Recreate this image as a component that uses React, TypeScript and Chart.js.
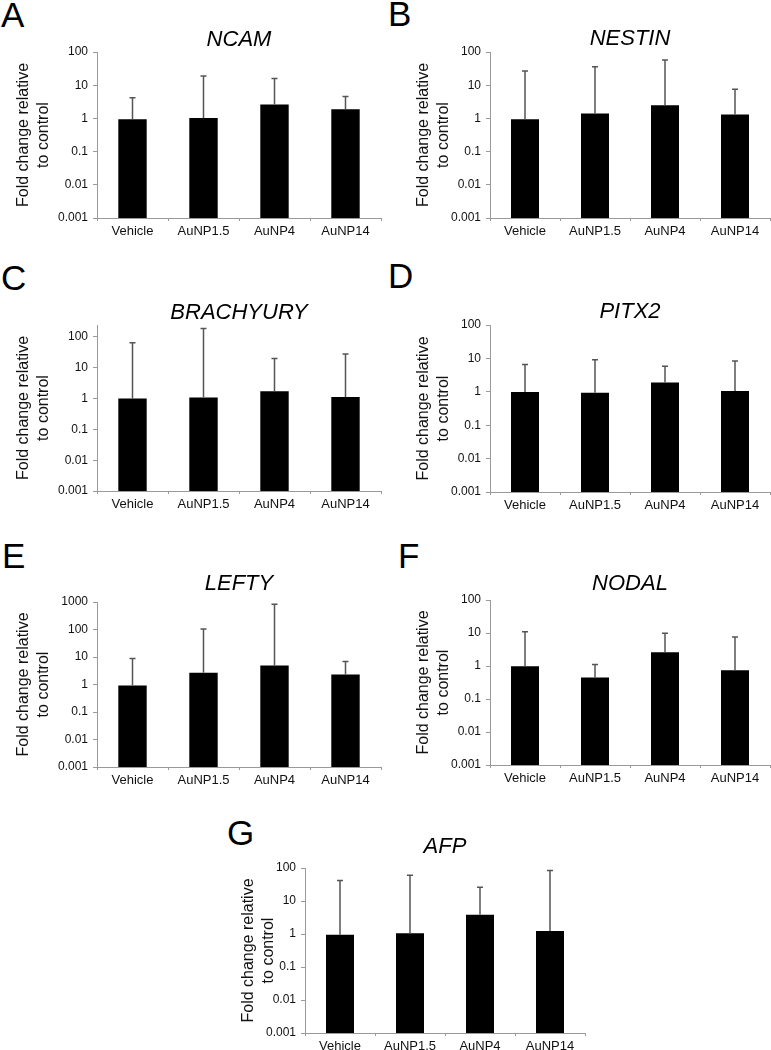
import React, { useEffect, useRef } from "react";
import { Chart, registerables } from "chart.js";

Chart.register(...registerables);

const FONT = "'Liberation Sans', Arial, Helvetica, sans-serif";

const categories = ["Vehicle", "AuNP1.5", "AuNP4", "AuNP14"];

// Bar heights (fold change) and top of the error bar per gene
const ncamMeans = [0.95, 1.03, 2.6, 1.9];
const ncamUpper = [4.2, 19, 15.8, 4.6];
const nestinMeans = [0.95, 1.4, 2.5, 1.3];
const nestinUpper = [27, 36, 57, 7.5];
const brachyuryMeans = [1.0, 1.08, 1.73, 1.13];
const brachyuryUpper = [65, 190, 20, 28];
const pitx2Means = [0.98, 0.93, 1.9, 1.05];
const pitx2Upper = [6.6, 9.1, 5.8, 8.3];
const leftyMeans = [0.92, 2.7, 4.9, 2.3];
const leftyUpper = [8.8, 105, 830, 6.9];
const nodalMeans = [0.98, 0.45, 2.6, 0.74];
const nodalUpper = [11, 1.12, 9.8, 7.6];
const afpMeans = [0.95, 1.05, 3.8, 1.23];
const afpUpper = [42, 60, 26, 84];

const ticks100 = [0.001, 0.01, 0.1, 1, 10, 100];
const ticks1000 = [0.001, 0.01, 0.1, 1, 10, 100, 1000];

const yTitle = ["Fold change relative", "to control"];

type Panel = {
  letter: string;
  letterX: number;
  letterBase: number;
  title: string;
  titleMid: number;
  means: number[];
  upper: number[];
  yMax: number;
  yTicks: number[];
  area: [number, number, number, number]; // left, top, right, bottom
  yTitleX: number;
};

const panels: Panel[] = [
  { letter: "A", letterX: 1, letterBase: 29, title: "NCAM", titleMid: 39.5, means: ncamMeans, upper: ncamUpper, yMax: 100, yTicks: ticks100, area: [97, 52, 381, 218], yTitleX: 24 },
  { letter: "B", letterX: 388, letterBase: 28, title: "NESTIN", titleMid: 39, means: nestinMeans, upper: nestinUpper, yMax: 100, yTicks: ticks100, area: [490, 52, 770, 218], yTitleX: 424 },
  { letter: "C", letterX: 1, letterBase: 292, title: "BRACHYURY", titleMid: 312.5, means: brachyuryMeans, upper: brachyuryUpper, yMax: 245, yTicks: ticks100, area: [97, 325, 381, 491], yTitleX: 24 },
  { letter: "D", letterX: 388, letterBase: 290, title: "PITX2", titleMid: 312, means: pitx2Means, upper: pitx2Upper, yMax: 100, yTicks: ticks100, area: [490, 325, 770, 492], yTitleX: 424 },
  { letter: "E", letterX: 2, letterBase: 570, title: "LEFTY", titleMid: 584, means: leftyMeans, upper: leftyUpper, yMax: 1000, yTicks: ticks1000, area: [97, 602, 381, 767], yTitleX: 24 },
  { letter: "F", letterX: 398, letterBase: 570, title: "NODAL", titleMid: 584, means: nodalMeans, upper: nodalUpper, yMax: 100, yTicks: ticks100, area: [490, 600, 770, 765], yTitleX: 424 },
  { letter: "G", letterX: 227, letterBase: 847, title: "AFP", titleMid: 847, means: afpMeans, upper: afpUpper, yMax: 100, yTicks: ticks100, area: [305, 868, 585, 1033], yTitleX: 249 },
];

const errorBarPlugin = {
  id: "errorBars",
  afterDatasetsDraw(chart: any, _args: any, opts: any) {
    const meta = chart.getDatasetMeta(0);
    const y = chart.scales.y;
    const ctx = chart.ctx;
    const upper: number[] = opts.upper || [];
    ctx.save();
    ctx.strokeStyle = "#555555";
    ctx.lineWidth = 1.5;
    meta.data.forEach((bar: any, i: number) => {
      if (upper[i] == null) return;
      const top = y.getPixelForValue(upper[i]);
      ctx.beginPath();
      ctx.moveTo(bar.x, bar.y);
      ctx.lineTo(bar.x, top);
      ctx.moveTo(bar.x - 3, top);
      ctx.lineTo(bar.x + 3, top);
      ctx.stroke();
    });
    ctx.restore();
  },
};

const TOP = 40;
const BOTTOM = 24;
const PAD_R = 3;

function PanelChart({ p }: { p: Panel }) {
  const ref = useRef<HTMLCanvasElement>(null);
  const [l, t, r, b] = p.area;
  const canvasLeft = Math.max(0, l - 97);
  const canvasTop = t - TOP;
  const width = r - canvasLeft + PAD_R;
  const height = b - t + TOP + BOTTOM;

  useEffect(() => {
    if (!ref.current) return;
    const d = t - p.titleMid;
    const yScaleWidth = l - canvasLeft;
    const chart = new Chart(ref.current, {
      type: "bar",
      data: {
        labels: categories,
        datasets: [
          {
            data: p.means,
            backgroundColor: "#000000",
            borderWidth: 0,
            barPercentage: 0.4,
            categoryPercentage: 1,
          },
        ],
      },
      options: {
        responsive: false,
        animation: false,
        devicePixelRatio: 1,
        layout: { padding: { left: 0, right: PAD_R, top: 0, bottom: 0 } },
        plugins: {
          legend: { display: false },
          tooltip: { enabled: false },
          title: {
            display: true,
            text: p.title,
            fullSize: false,
            color: "#000000",
            font: { family: FONT, size: 22, style: "italic", weight: "normal", lineHeight: 1 },
            padding: { top: TOP - d - 11, bottom: d - 11 },
          },
          errorBars: { upper: p.upper },
        } as any,
        scales: {
          x: {
            type: "category",
            offset: true,
            afterFit: (s: any) => {
              s.height = BOTTOM;
            },
            grid: {
              display: true,
              offset: true,
              drawOnChartArea: false,
              drawTicks: true,
              tickLength: 3,
              color: "#9a9a9a",
            },
            border: { display: true, color: "#9a9a9a", width: 1 },
            ticks: {
              color: "#111111",
              font: { family: FONT, size: 13 },
              padding: 3,
              maxRotation: 0,
              autoSkip: false,
            },
          },
          y: {
            type: "logarithmic",
            min: 0.001,
            max: p.yMax,
            afterBuildTicks: (s: any) => {
              s.ticks = p.yTicks.map((v) => ({ value: v, major: true }));
            },
            afterFit: (s: any) => {
              s.width = yScaleWidth;
            },
            grid: {
              display: true,
              drawOnChartArea: false,
              drawTicks: true,
              tickLength: 4,
              color: "#9a9a9a",
            },
            border: { display: true, color: "#9a9a9a", width: 1 },
            ticks: {
              color: "#111111",
              font: { family: FONT, size: 12 },
              padding: 5,
              autoSkip: false,
              callback: (v: any) => String(Number(v)),
            },
            title: {
              display: true,
              text: yTitle,
              color: "#111111",
              font: { family: FONT, size: 16, lineHeight: 1.2 },
              padding: { top: p.yTitleX - canvasLeft - 9.6, bottom: 0 },
            },
          },
        },
      } as any,
      plugins: [errorBarPlugin],
    });
    return () => chart.destroy();
  }, []);

  return (
    <canvas
      ref={ref}
      width={width}
      height={height}
      style={{ position: "absolute", left: canvasLeft, top: canvasTop, width, height }}
    />
  );
}

export default function App() {
  return (
    <div style={{ position: "absolute", left: 0, top: 0, width: 771, height: 1050, background: "#ffffff", overflow: "hidden" }}>
      {panels.map((p) => (
        <React.Fragment key={p.letter}>
          <div
            style={{
              position: "absolute",
              left: p.letterX,
              top: p.letterBase - 0.905 * 35,
              fontFamily: FONT,
              fontSize: 35,
              lineHeight: "35px",
              color: "#000",
            }}
          >
            {p.letter}
          </div>
          <PanelChart p={p} />
        </React.Fragment>
      ))}
    </div>
  );
}
